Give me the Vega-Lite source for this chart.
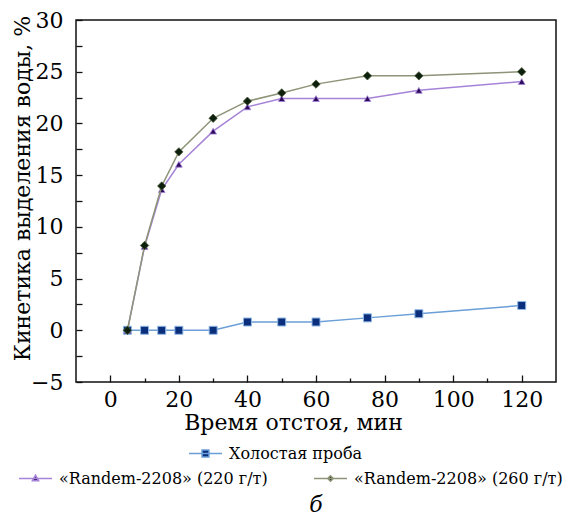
{
  "$schema": "https://vega.github.io/schema/vega-lite/v6.json",
  "width": 480,
  "height": 362,
  "autosize": "none",
  "padding": {"left": 76, "top": 20, "right": 16, "bottom": 138},
  "background": "white",
  "config": {
    "view": {"stroke": "#111", "strokeWidth": 1.5},
    "font": "DejaVu Serif"
  },
  "title": {"text": "б", "orient": "bottom", "fontStyle": "italic", "fontWeight": "normal", "font": "DejaVu Serif", "fontSize": 22, "color": "#000", "offset": 8},
  "data": {
    "values": [
      {"t": 5, "v": 0, "s": "Холостая проба"},
      {"t": 10, "v": 0, "s": "Холостая проба"},
      {"t": 15, "v": 0, "s": "Холостая проба"},
      {"t": 20, "v": 0, "s": "Холостая проба"},
      {"t": 30, "v": 0, "s": "Холостая проба"},
      {"t": 40, "v": 0.8, "s": "Холостая проба"},
      {"t": 50, "v": 0.8, "s": "Холостая проба"},
      {"t": 60, "v": 0.8, "s": "Холостая проба"},
      {"t": 75, "v": 1.2, "s": "Холостая проба"},
      {"t": 90, "v": 1.6, "s": "Холостая проба"},
      {"t": 120, "v": 2.4, "s": "Холостая проба"},
      {"t": 5, "v": 0, "s": "«Randem-2208» (220 г/т)"},
      {"t": 10, "v": 8.1, "s": "«Randem-2208» (220 г/т)"},
      {"t": 15, "v": 13.6, "s": "«Randem-2208» (220 г/т)"},
      {"t": 20, "v": 16.05, "s": "«Randem-2208» (220 г/т)"},
      {"t": 30, "v": 19.25, "s": "«Randem-2208» (220 г/т)"},
      {"t": 40, "v": 21.6, "s": "«Randem-2208» (220 г/т)"},
      {"t": 50, "v": 22.4, "s": "«Randem-2208» (220 г/т)"},
      {"t": 60, "v": 22.4, "s": "«Randem-2208» (220 г/т)"},
      {"t": 75, "v": 22.4, "s": "«Randem-2208» (220 г/т)"},
      {"t": 90, "v": 23.2, "s": "«Randem-2208» (220 г/т)"},
      {"t": 120, "v": 24.05, "s": "«Randem-2208» (220 г/т)"},
      {"t": 5, "v": 0, "s": "«Randem-2208» (260 г/т)"},
      {"t": 10, "v": 8.2, "s": "«Randem-2208» (260 г/т)"},
      {"t": 15, "v": 13.95, "s": "«Randem-2208» (260 г/т)"},
      {"t": 20, "v": 17.25, "s": "«Randem-2208» (260 г/т)"},
      {"t": 30, "v": 20.5, "s": "«Randem-2208» (260 г/т)"},
      {"t": 40, "v": 22.15, "s": "«Randem-2208» (260 г/т)"},
      {"t": 50, "v": 22.95, "s": "«Randem-2208» (260 г/т)"},
      {"t": 60, "v": 23.8, "s": "«Randem-2208» (260 г/т)"},
      {"t": 75, "v": 24.6, "s": "«Randem-2208» (260 г/т)"},
      {"t": 90, "v": 24.6, "s": "«Randem-2208» (260 г/т)"},
      {"t": 120, "v": 25.0, "s": "«Randem-2208» (260 г/т)"}
    ]
  },
  "encoding": {
    "x": {
      "field": "t", "type": "quantitative",
      "scale": {"domain": [-10, 130], "nice": false, "zero": false},
      "axis": {
        "title": "Время отстоя, мин",
        "titleFont": "DejaVu Serif", "titleFontSize": 22, "titleFontWeight": "normal", "titleColor": "#000",
        "titlePadding": 2, "titleX": 217, "titleAlign": "center",
        "values": [0, 10, 20, 30, 40, 50, 60, 70, 80, 90, 100, 110, 120],
        "labelExpr": "datum.value % 20 === 0 ? datum.label : ''",
        "labelFont": "DejaVu Serif", "labelFontSize": 22, "labelColor": "#000",
        "labelPadding": 14,
        "domain": false, "grid": false,
        "tickColor": "#111", "tickWidth": 1.3,
        "tickSize": {"condition": {"test": "datum.value % 20 === 0", "value": -7}, "value": -4}
      }
    },
    "y": {
      "field": "v", "type": "quantitative",
      "scale": {"domain": [-5, 30], "nice": false, "zero": false},
      "axis": {
        "title": "Кинетика выделения воды, %",
        "titleFont": "DejaVu Serif", "titleFontSize": 22, "titleFontWeight": "normal", "titleColor": "#000",
        "titleX": -42, "titleY": 168, "titleAlign": "center", "titleBaseline": "bottom", "titleAngle": 270,
        "values": [-5, -2.5, 0, 2.5, 5, 7.5, 10, 12.5, 15, 17.5, 20, 22.5, 25, 27.5, 30],
        "labelExpr": "datum.value % 5 === 0 ? datum.label : ''",
        "labelFont": "DejaVu Serif", "labelFontSize": 22, "labelColor": "#000",
        "labelPadding": 19,
        "domain": false, "grid": false,
        "tickColor": "#111", "tickWidth": 1.3,
        "tickSize": -6
      }
    }
  },
  "layer": [
    {
      "transform": [{"filter": {"field": "s", "equal": "Холостая проба"}}],
      "mark": {"type": "line", "strokeWidth": 1.5},
      "encoding": {
        "color": {
          "field": "s", "type": "nominal",
          "scale": {"domain": ["Холостая проба"], "range": ["#6a9fd8"]},
          "legend": {
            "orient": "none", "legendX": 112, "legendY": 416, "title": null,
            "symbolType": "M-1,0H1M-0.21,-0.21H0.21V0.21H-0.21Z",
            "symbolSize": 1089, "symbolStrokeWidth": 1.5,
            "labelFont": "DejaVu Serif", "labelFontSize": 16, "labelColor": "#000", "labelOffset": 6, "labelLimit": 0,
            "encode": {"symbols": {"update": {"fill": {"value": "#0b2f7d"}, "stroke": {"value": "#6a9fd8"}}}}
          }
        }
      }
    },
    {
      "transform": [{"filter": {"field": "s", "equal": "Холостая проба"}}],
      "mark": {"type": "point", "shape": "square", "filled": true, "size": 64, "fill": "#0b2f7d", "stroke": "#8fb8e6", "strokeWidth": 1, "opacity": 1}
    },
    {
      "transform": [{"filter": {"field": "s", "equal": "«Randem-2208» (220 г/т)"}}],
      "mark": {"type": "line", "strokeWidth": 1.5},
      "encoding": {
        "color": {
          "field": "s", "type": "nominal",
          "scale": {"domain": ["«Randem-2208» (220 г/т)"], "range": ["#a683d8"]},
          "legend": {
            "orient": "none", "legendX": -58, "legendY": 441, "title": null,
            "symbolType": "M-1,0H1M0,-0.2L0.19,0.14H-0.19Z",
            "symbolSize": 1089, "symbolStrokeWidth": 1.5,
            "labelFont": "DejaVu Serif", "labelFontSize": 16, "labelColor": "#000", "labelOffset": 6, "labelLimit": 0,
            "encode": {"symbols": {"update": {"fill": {"value": "#2d0b5c"}, "stroke": {"value": "#a683d8"}}}}
          }
        }
      }
    },
    {
      "transform": [{"filter": {"field": "s", "equal": "«Randem-2208» (220 г/т)"}}],
      "mark": {"type": "point", "shape": "triangle-up", "filled": true, "size": 45, "fill": "#2d0b5c", "stroke": "#a683d8", "strokeWidth": 0.8, "opacity": 1}
    },
    {
      "transform": [{"filter": {"field": "s", "equal": "«Randem-2208» (260 г/т)"}}],
      "mark": {"type": "line", "strokeWidth": 1.5},
      "encoding": {
        "color": {
          "field": "s", "type": "nominal",
          "scale": {"domain": ["«Randem-2208» (260 г/т)"], "range": ["#8d9478"]},
          "legend": {
            "orient": "none", "legendX": 237, "legendY": 441, "title": null,
            "symbolType": "M-1,0H1M0,-0.17L0.17,0L0,0.17L-0.17,0Z",
            "symbolSize": 1089, "symbolStrokeWidth": 1.5,
            "labelFont": "DejaVu Serif", "labelFontSize": 16, "labelColor": "#000", "labelOffset": 6, "labelLimit": 0,
            "encode": {"symbols": {"update": {"fill": {"value": "#0d1f0d"}, "stroke": {"value": "#8d9478"}}}}
          }
        }
      }
    },
    {
      "transform": [{"filter": {"field": "s", "equal": "«Randem-2208» (260 г/т)"}}],
      "mark": {"type": "point", "shape": "diamond", "filled": true, "size": 70, "fill": "#0d1f0d", "stroke": "#4a5a3a", "strokeWidth": 0.8, "opacity": 1}
    }
  ],
  "resolve": {"scale": {"color": "independent"}}
}
